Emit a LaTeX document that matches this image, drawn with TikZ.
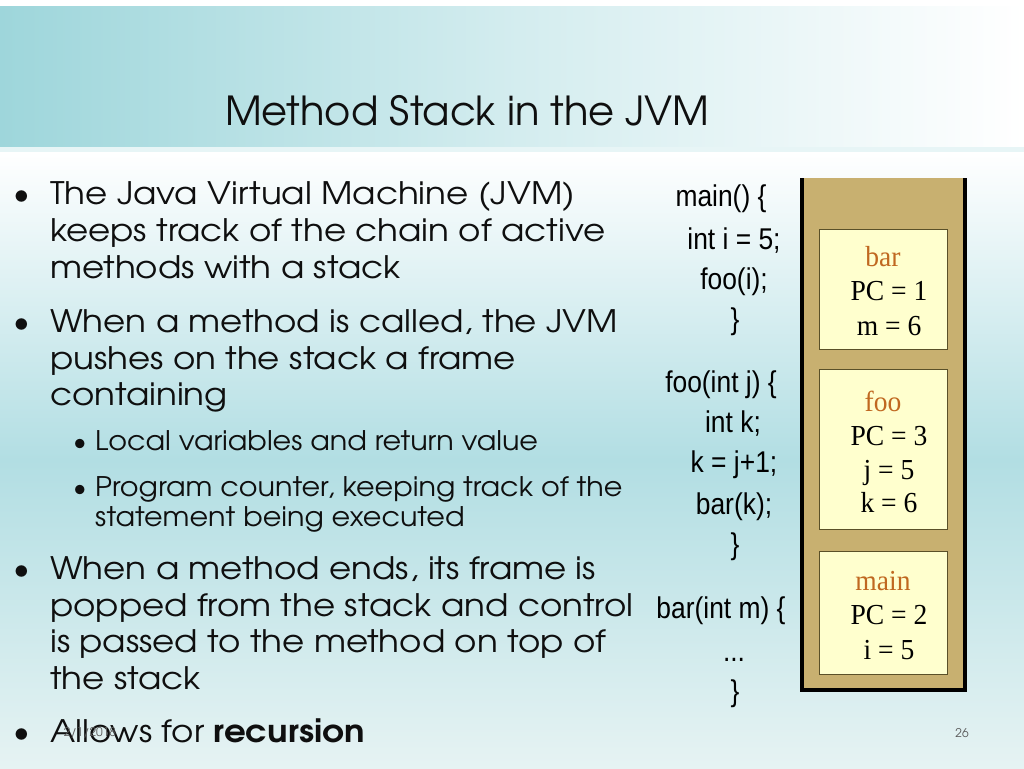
\documentclass[tikz,border=0pt]{standalone}
\usepackage{fontspec}
\setmainfont{TeX Gyre Adventor}
\newfontfamily\bodyfont{TeX Gyre Adventor}[FakeStretch=1.10]
\newfontfamily\subfont{TeX Gyre Adventor}[FakeStretch=1.06]
\newfontfamily\codefont{Liberation Sans}[FakeStretch=0.88]
\newfontfamily\boxfont{Liberation Serif}[FakeStretch=0.95]
\definecolor{bandteal}{RGB}{158,214,219}
\definecolor{bodyteal}{RGB}{178,222,227}
\definecolor{bodybot}{RGB}{230,243,243}
\definecolor{tan}{RGB}{200,176,112}
\definecolor{frame}{RGB}{255,255,206}
\definecolor{framedraw}{RGB}{90,80,40}
\definecolor{lbl}{RGB}{192,104,32}
\definecolor{ink}{RGB}{15,15,15}
\tikzset{
  body/.style={anchor=base west, inner sep=0pt, font=\bodyfont\fontsize{31}{36}\selectfont, text=ink},
  sub/.style={anchor=base west, inner sep=0pt, font=\subfont\fontsize{27}{30}\selectfont, text=ink},
  bul/.style={anchor=base, inner sep=0pt, font=\fontsize{32}{36}\selectfont, text=ink},
  subbul/.style={anchor=base, inner sep=0pt, font=\fontsize{26}{28}\selectfont, text=ink},
  code/.style={anchor=center, inner sep=0pt, text height=0.72em, text depth=0.2em, font=\codefont\fontsize{30}{34}\selectfont, text=black},
  frametxt/.style={anchor=center, inner sep=0pt, text height=0.68em, text depth=0.2em, font=\boxfont\fontsize{29}{32}\selectfont, text=black},
  framebox/.style={draw=framedraw, line width=0.8pt, fill=frame},
  foot/.style={anchor=center, inner sep=0pt, font=\fontsize{12}{14}\selectfont, text=black!65}
}
\begin{document}
\begin{tikzpicture}[x=1pt,y=-1pt]
\useasboundingbox (0,0) rectangle (1024,768);
% backgrounds
\fill[white] (0,0) rectangle (1024,768);
\shade[top color=white, bottom color=bodybot, middle color=bodyteal] (0,152) rectangle (1024,768);
\shade[left color=bandteal, right color=white, middle color=bandteal!45!white] (0,7) rectangle (1024,147);
\fill[bandteal!25!white] (0,147) rectangle (1024,152);
% title
\node[anchor=base west, inner sep=0pt, font=\fontsize{40}{48}\selectfont, text=ink] (title) at (225,125) {Method Stack in the JVM};
% bullets
\node[bul] (b1) at (22,204) {•};
\node[body] (t1a) at (50,204) {The Java Virtual Machine (JVM)};
\node[body] (t1b) at (50,241) {keeps track of the chain of active};
\node[body] (t1c) at (50,278) {methods with a stack};
\node[bul] (b2) at (22,332) {•};
\node[body] (t2a) at (50,332) {When a method is called, the JVM};
\node[body] (t2b) at (50,369) {pushes on the stack a frame};
\node[body] (t2c) at (50,405) {containing};
\node[subbul] (s1) at (80,450) {•};
\node[sub] (s1t) at (95,450) {Local variables and return value};
\node[subbul] (s2) at (80,496) {•};
\node[sub] (s2a) at (95,496) {Program counter, keeping track of the};
\node[sub] (s2b) at (95,526) {statement being executed};
\node[bul] (b3) at (22,579) {•};
\node[body] (t3a) at (50,579) {When a method ends, its frame is};
\node[body] (t3b) at (50,616) {popped from the stack and control};
\node[body] (t3c) at (50,652) {is passed to the method on top of};
\node[body] (t3d) at (50,689) {the stack};
\node[bul] (b4) at (22,742) {•};
\node[body] (t4) at (50,742) {Allows for \textbf{recursion}};
% code
\node[code] (c1) at (721,204) {main() \{};
\node[code] (c2) at (734,247) {int i = 5;};
\node[code] (c3) at (734,287) {foo(i);};
\node[code] (c4) at (735,327) {\}};
\node[code] (c5) at (721,390) {foo(int j) \{};
\node[code] (c6) at (733,430) {int k;};
\node[code] (c7) at (734,470) {k = j+1;};
\node[code] (c8) at (734,512) {bar(k);};
\node[code] (c9) at (735,552) {\}};
\node[code] (c10) at (721,616) {bar(int m) \{};
\node[code] (c11) at (734,659) {...};
\node[code] (c12) at (735,699) {\}};
% stack
\fill[tan] (802,178) rectangle (965,690);
\draw[black, line width=4pt] (802,178) -- (802,690) -- (965,690) -- (965,178);
\node[framebox, minimum width=128pt, minimum height=120pt, anchor=north west] (fbar) at (819,229) {};
\node[framebox, minimum width=128pt, minimum height=160pt, anchor=north west] (ffoo) at (819,369) {};
\node[framebox, minimum width=128pt, minimum height=123pt, anchor=north west] (fmain) at (819,551) {};
\node[frametxt, text=lbl] (l1) at (883,264) {bar};
\node[frametxt] (l2) at (889,298) {PC = 1};
\node[frametxt] (l3) at (889,333) {m = 6};
\node[frametxt, text=lbl] (l4) at (883,409) {foo};
\node[frametxt] (l5) at (889,443) {PC = 3};
\node[frametxt] (l6) at (889,477) {j = 5};
\node[frametxt] (l7) at (889,510) {k = 6};
\node[frametxt, text=lbl] (l8) at (883,588) {main};
\node[frametxt] (l9) at (889,622) {PC = 2};
\node[frametxt] (l10) at (889,657) {i = 5};
% footer
\node[foot] (date) at (90,733) {2/1/2018};
\node[foot] (page) at (962,733) {26};
\end{tikzpicture}
\end{document}
